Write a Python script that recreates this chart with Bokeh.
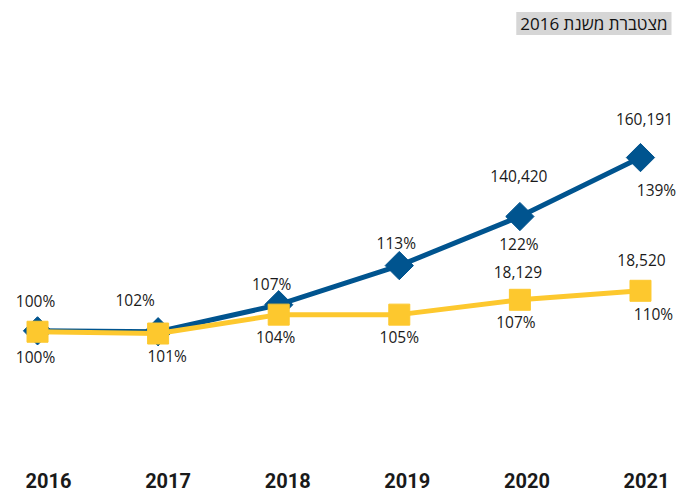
import math
from bokeh.plotting import figure
from bokeh.models import ColumnDataSource, Range1d, Label, FixedTicker, LinearAxis
from bokeh.core.properties import value
from bokeh.embed import file_html
from bokeh.resources import INLINE

# ---- data ----
years = [2016, 2017, 2018, 2019, 2020, 2021]
# plotted levels (index)
blue_level = [100.4, 100.2, 106.2, 114.9, 125.8, 138.9]
yellow_level = [100.2, 99.8, 104.0, 104.0, 107.3, 109.3]
# printed labels
blue_pct = ["100%", "102%", "107%", "113%", "122%", "139%"]
yellow_pct = ["100%", "101%", "104%", "105%", "107%", "110%"]
blue_abs = ["", "", "", "", "140,420", "160,191"]
yellow_abs = ["", "", "", "", "18,129", "18,520"]
title_text = "מצטברת משנת 2016"

BLUE = "#00548f"
YELLOW = "#fdc82e"
TXT = "#1a1a1a"
LABEL_FONT = "'Open Sans', sans-serif"
YEAR_FONT = "Roboto, sans-serif"

p = figure(width=677, height=492, output_backend="svg", toolbar_location=None,
           x_range=Range1d(2015.693, 2021.307), y_range=Range1d(72.7, 173.8),
           x_axis_location=None,
           min_border_left=0, min_border_right=0, min_border_top=0, min_border_bottom=37)
p.outline_line_color = None
p.background_fill_color = "white"
p.border_fill_color = "white"
p.grid.visible = False
p.yaxis.visible = False

# category labels sit slightly right of the markers in the original
p.extra_x_ranges = {"labels": Range1d(2015.599, 2021.259)}
xa = LinearAxis(x_range_name="labels", ticker=FixedTicker(ticks=years))
xa.axis_line_color = None
xa.major_tick_line_color = None
xa.minor_tick_line_color = None
xa.major_label_text_font = YEAR_FONT
xa.major_label_text_font_style = "bold"
xa.major_label_text_font_size = "20px"
xa.major_label_text_color = TXT
xa.major_label_standoff = 11
p.add_layout(xa, "below")

src = ColumnDataSource(dict(
    x=years, by=blue_level, yy=yellow_level,
    bp=blue_pct, yp=yellow_pct, ba=blue_abs, ya=yellow_abs,
    bp_dx=[-2, -23, -7, -3, -1, 16], bp_dy=[-30, -32, -21, -23, 27, 32],
    yp_dx=[-2, 9, -3, 0, -4, 13], yp_dy=[25, 22, 22, 22, 22, 23],
    ba_dx=[0, 0, 0, 0, -1, 4], ba_dy=[0, 0, 0, 0, -41, -39],
    ya_dx=[0, 0, 0, 0, -2, 1], ya_dy=[0, 0, 0, 0, -28, -31],
))

p.line("x", "by", source=src, line_color=BLUE, line_width=5)
p.scatter("x", "by", source=src, marker="square", size=20, angle=math.pi / 4,
          fill_color=BLUE, line_color=BLUE)
p.line("x", "yy", source=src, line_color=YELLOW, line_width=5)
p.scatter("x", "yy", source=src, marker="square", size=21, fill_color=YELLOW, line_color=YELLOW)

common = dict(source=src, text_font=value(LABEL_FONT), text_font_size="15.5px",
              text_color=TXT, text_align="center", text_baseline="middle")
p.text(x="x", y="by", text="bp", x_offset="bp_dx", y_offset="bp_dy", **common)
p.text(x="x", y="yy", text="yp", x_offset="yp_dx", y_offset="yp_dy", **common)
p.text(x="x", y="by", text="ba", x_offset="ba_dx", y_offset="ba_dy", **common)
p.text(x="x", y="yy", text="ya", x_offset="ya_dx", y_offset="ya_dy", **common)

title = Label(x=671, y=432, x_units="screen", y_units="screen", text=title_text,
              text_align="right", text_baseline="middle", text_font=LABEL_FONT,
              text_font_size="17px", text_color="#111111",
              background_fill_color="#d6d6d6", padding=(4, 0))
p.add_layout(title)

open("out.html", "w").write(file_html(p, INLINE))
